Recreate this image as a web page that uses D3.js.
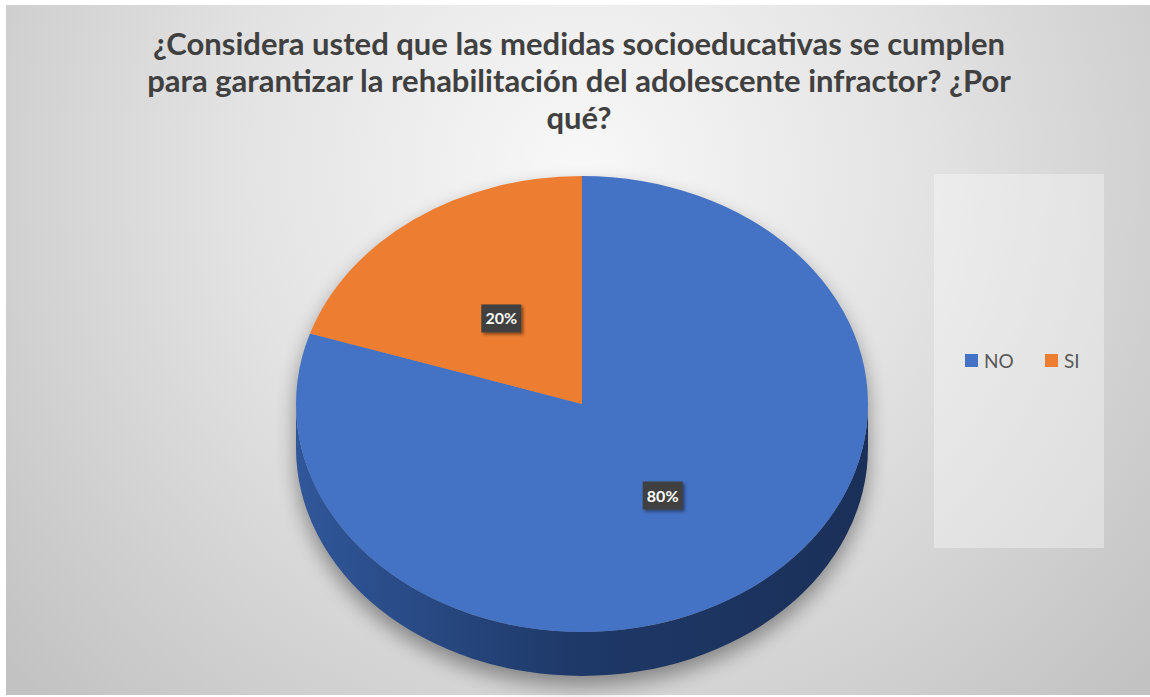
<!DOCTYPE html>
<html>
<head>
<meta charset="utf-8">
<script src="https://cdn.jsdelivr.net/npm/d3@7"></script>
<style>
  html, body { margin: 0; padding: 0; background: #ffffff; }
  svg { display: block; }
</style>
</head>
<body>
<svg id="chart" width="1150" height="697"></svg>
<script>
// Survey answers
const categories = ["NO", "SI"];
const values = [80, 20];
const labels = ["80%", "20%"];
const titleLines = [
  "¿Considera usted que las medidas socioeducativas se cumplen",
  "para garantizar la rehabilitación del adolescente infractor? ¿Por",
  "qué?"
];

const colors = { NO: "#4472C4", SI: "#ED7D31" };
const sideColors = {
  NO: ["#30579A", "#1E3867", "#1A3059"],
  SI: ["#B35A1E", "#8A4415", "#7A3C12"]
};

const W = 1150, H = 697;
const svg = d3.select("#chart");
const defs = svg.append("defs");

// Chart-area background: soft radial grey
const bg = defs.append("radialGradient").attr("id", "bgGrad")
  .attr("gradientUnits", "userSpaceOnUse")
  .attr("cx", 580).attr("cy", 170).attr("r", 760);
bg.append("stop").attr("offset", "0%").attr("stop-color", "#f8f8f8");
bg.append("stop").attr("offset", "45%").attr("stop-color", "#e3e3e3");
bg.append("stop").attr("offset", "100%").attr("stop-color", "#c2c2c2");

svg.append("rect").attr("x", 6).attr("y", 5).attr("width", W - 6).attr("height", 690)
  .attr("fill", "url(#bgGrad)");

// Title
const title = svg.append("text")
  .attr("text-anchor", "middle")
  .attr("font-family", "Lato, 'Open Sans', sans-serif")
  .attr("font-weight", "bold")
  .attr("font-size", 31)
  .attr("fill", "#404040");
titleLines.forEach((t, i) => {
  title.append("tspan").attr("x", 579).attr("y", 55 + i * 37).text(t);
});

// Pie geometry
const cx = 582, cy = 404, rx = 286, ry = 228, depth = 44;

const pie = d3.pie().sort(null).value(d => d.value);
const data = categories.map((c, i) => ({ cat: c, value: values[i], label: labels[i] }));
const arcs = pie(data);

// Drop shadow under the disc
const blur = defs.append("filter").attr("id", "shadowBlur")
  .attr("x", "-20%").attr("y", "-20%").attr("width", "140%").attr("height", "140%");
blur.append("feGaussianBlur").attr("stdDeviation", 10);

const pt = (a, dy) => [cx + rx * Math.sin(a), cy - ry * Math.cos(a) + (dy || 0)];

const shadowPath = () => {
  const l = pt(-Math.PI / 2), r = pt(Math.PI / 2);
  return `M${l[0]},${l[1]} A${rx},${ry} 0 0 1 ${r[0]},${r[1]}` +
    ` L${r[0]},${r[1] + depth} A${rx},${ry} 0 0 1 ${l[0]},${l[1] + depth} Z`;
};
svg.append("path")
  .attr("d", shadowPath())
  .attr("transform", "translate(0,10)")
  .attr("fill", "#000")
  .attr("opacity", 0.38)
  .attr("filter", "url(#shadowBlur)");

// Side walls (front half only: angles between PI/2 and 3PI/2)
const sideG = svg.append("g");
arcs.forEach((d, i) => {
  const a0 = Math.max(d.startAngle, Math.PI / 2);
  const a1 = Math.min(d.endAngle, 3 * Math.PI / 2);
  if (a1 <= a0) return;
  const g = defs.append("linearGradient").attr("id", "side" + i)
    .attr("gradientUnits", "userSpaceOnUse")
    .attr("x1", cx - rx).attr("x2", cx + rx).attr("y1", 0).attr("y2", 0);
  const sc = sideColors[d.data.cat];
  g.append("stop").attr("offset", "0%").attr("stop-color", sc[0]);
  g.append("stop").attr("offset", "50%").attr("stop-color", sc[1]);
  g.append("stop").attr("offset", "100%").attr("stop-color", sc[2]);
  const p0 = pt(a0), p1 = pt(a1);
  const large = (a1 - a0) > Math.PI ? 1 : 0;
  const path = `M${p0[0]},${p0[1]} A${rx},${ry} 0 ${large} 1 ${p1[0]},${p1[1]}` +
    ` L${p1[0]},${p1[1] + depth} A${rx},${ry} 0 ${large} 0 ${p0[0]},${p0[1] + depth} Z`;
  sideG.append("path").attr("d", path).attr("fill", `url(#side${i})`);
});

// Top face: circular arcs squashed into the ellipse
const arc = d3.arc().innerRadius(0).outerRadius(rx);
svg.append("g")
  .attr("transform", `translate(${cx},${cy}) scale(1,${ry / rx})`)
  .selectAll("path")
  .data(arcs)
  .join("path")
  .attr("d", arc)
  .attr("fill", d => colors[d.data.cat]);

// Data labels
const labelFilter = defs.append("filter").attr("id", "labelShadow")
  .attr("x", "-30%").attr("y", "-30%").attr("width", "170%").attr("height", "170%");
labelFilter.append("feDropShadow").attr("dx", 2).attr("dy", 2).attr("stdDeviation", 1.5)
  .attr("flood-color", "#000").attr("flood-opacity", 0.45);

const labelR = 0.48;
const lg = svg.append("g");
arcs.forEach(d => {
  const m = (d.startAngle + d.endAngle) / 2;
  const x = cx + rx * labelR * Math.sin(m);
  const y = cy - ry * labelR * Math.cos(m) + 3;
  const bw = 40, bh = 28;
  lg.append("rect").attr("x", x - bw / 2).attr("y", y - bh / 2)
    .attr("width", bw).attr("height", bh)
    .attr("fill", "#404040").attr("filter", "url(#labelShadow)");
  lg.append("text").attr("x", x).attr("y", y + 6)
    .attr("text-anchor", "middle")
    .attr("font-family", "Lato, 'Open Sans', sans-serif")
    .attr("font-weight", "bold")
    .attr("font-size", 16)
    .attr("fill", "#ffffff")
    .text(d.data.label);
});

// Legend
const legend = svg.append("g");
legend.append("rect").attr("x", 934).attr("y", 174).attr("width", 170).attr("height", 374)
  .attr("fill", "#ffffff").attr("opacity", 0.35);
const legendX = [965, 1045];
categories.forEach((c, i) => {
  legend.append("rect").attr("x", legendX[i]).attr("y", 354)
    .attr("width", 13).attr("height", 13).attr("fill", colors[c]);
  legend.append("text").attr("x", legendX[i] + 19).attr("y", 368)
    .attr("font-family", "Lato, 'Open Sans', sans-serif")
    .attr("font-size", 19)
    .attr("fill", "#595959")
    .text(c);
});
</script>
</body>
</html>
